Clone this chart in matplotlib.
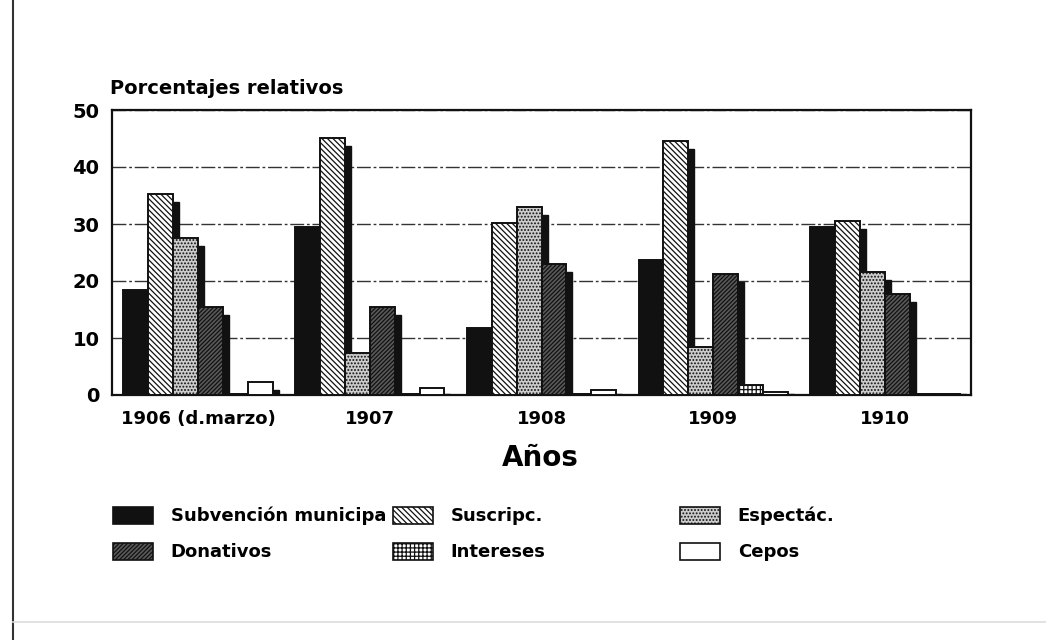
import numpy as np
import matplotlib
matplotlib.use("Agg")
import matplotlib.pyplot as plt
from matplotlib.patches import Patch
from matplotlib.lines import Line2D

# Data (percent)
years = ["1906 (d.marzo)", "1907", "1908", "1909", "1910"]
subvencion = [18.4, 29.5, 11.8, 23.7, 29.4]
suscripc = [35.3, 45.1, 30.2, 44.6, 30.5]
espectac = [27.6, 7.4, 33.0, 8.4, 21.5]
donativos = [15.5, 15.5, 23.0, 21.2, 17.7]
intereses = [0.1, 0.2, 0.1, 1.7, 0.2]
cepos = [2.2, 1.2, 0.9, 0.6, 0.2]

series = [
    ("Subvención municipa", subvencion, dict(facecolor="#111111", hatch=None)),
    ("Suscripc.", suscripc, dict(facecolor="white", hatch="\\\\\\\\\\\\")),
    ("Espectác.", espectac, dict(facecolor="#cccccc", hatch=".....")),
    ("Donativos", donativos, dict(facecolor="#5a5a5a", hatch="////////")),
    ("Intereses", intereses, dict(facecolor="white", hatch="++++")),
    ("Cepos", cepos, dict(facecolor="white", hatch=None)),
]

plt.rcParams["font.family"] = "DejaVu Sans"
plt.rcParams["font.weight"] = "bold"
plt.rcParams["hatch.linewidth"] = 0.9

fig = plt.figure(figsize=(10.46, 6.4), dpi=100)
ax = fig.add_axes([112 / 1046, 1 - 395 / 640, (971 - 112) / 1046, (395 - 110) / 640])

x = np.arange(len(years))
w = 0.145
dx = 0.035
dy = 1.4

# shadows first
for k, (name, vals, st) in enumerate(series):
    pos = x + (k - 2.5) * w
    sh = [max(v - dy, 0.15) for v in vals]
    ax.bar(pos + dx, sh, w, color="#111111", edgecolor="#111111", zorder=2)

for k, (name, vals, st) in enumerate(series):
    pos = x + (k - 2.5) * w
    ax.bar(pos, vals, w, facecolor=st["facecolor"], hatch=st["hatch"],
           edgecolor="#111111", linewidth=1.4, zorder=3)

ax.set_xlim(-0.5, 4.5)
ax.set_ylim(0, 50)
ax.set_yticks([0, 10, 20, 30, 40, 50])
ax.set_xticks(x)
ax.set_xticklabels(years)
ax.tick_params(axis="both", length=0)
ax.tick_params(axis="y", labelsize=14, pad=9)
ax.tick_params(axis="x", labelsize=13, pad=11)
for lab in ax.get_xticklabels() + ax.get_yticklabels():
    lab.set_fontweight("bold")
ax.yaxis.grid(True, linestyle=(0, (10, 2, 2, 2)), color="#333333", linewidth=1.0, zorder=0)
ax.set_axisbelow(True)
for sp in ax.spines.values():
    sp.set_linewidth(1.6)
    sp.set_color("#111111")

fig.text(110 / 1046, 1 - 89 / 640, "Porcentajes relativos", fontsize=14,
         fontweight="bold", va="center", ha="left")
fig.text(540 / 1046, 1 - 458 / 640, "Años", fontsize=20, fontweight="bold",
         va="center", ha="center")

# legend: three columns placed separately
def handle(st):
    return Patch(facecolor=st["facecolor"], hatch=st["hatch"], edgecolor="#111111", linewidth=1.2)

cols = [(0, 3, 113), (1, 4, 393), (2, 5, 680)]
for a, b, xp in cols:
    hs = [handle(series[a][2]), handle(series[b][2])]
    ls = [series[a][0], series[b][0]]
    leg = fig.legend(hs, ls, loc="center left", bbox_to_anchor=(xp / 1046, 1 - 534 / 640),
                     frameon=False, fontsize=13, handlelength=2.2, handleheight=1.1,
                     handletextpad=1.0, labelspacing=0.95, borderpad=0, borderaxespad=0)
    for t in leg.get_texts():
        t.set_fontweight("bold")

# page frame
fig.add_artist(Line2D([13 / 1046, 13 / 1046], [0, 1], color="#333333", linewidth=1.5))
fig.add_artist(Line2D([13 / 1046, 1], [1 - 622 / 640, 1 - 622 / 640], color="#dddddd", linewidth=1.2))

fig.savefig("out.png", dpi=100)
